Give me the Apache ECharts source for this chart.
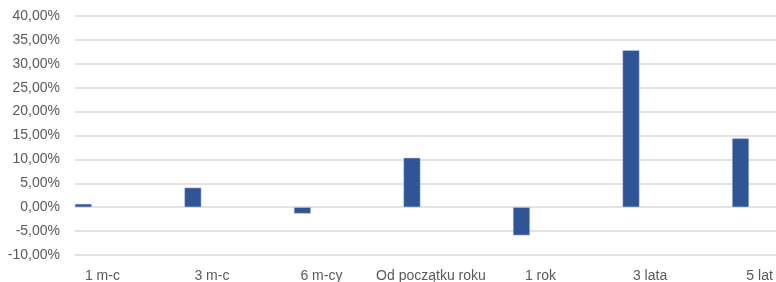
<!DOCTYPE html>
<html>
<head>
<meta charset="utf-8">
<script src="https://cdn.jsdelivr.net/npm/echarts@6/dist/echarts.min.js"></script>
<style>
  html, body { margin: 0; padding: 0; background: #fff; }
  #main { width: 776px; height: 282px; }
</style>
</head>
<body>
<div id="main"></div>
<script>
// okresy i stopy zwrotu (%)
var categories = ['1 m-c', '3 m-c', '6 m-cy', 'Od początku roku', '1 rok', '3 lata', '5 lat'];
var returns = [0.7, 4.1, -1.35, 10.35, -5.9, 32.85, 14.4];
var yTicks = { min: -10, max: 40, step: 5 };

var chart = echarts.init(document.getElementById('main'));
var font = 'Liberation Sans, Arial, sans-serif';

chart.setOption({
    animation: false,
    grid: { left: 75, right: 0, top: 16, bottom: 27, outerBoundsMode: 'none' },
    xAxis: {
        type: 'value',
        min: -0.25,
        max: 6.15,
        interval: 0.25,
        splitLine: { show: false },
        axisLine: { show: false },
        axisTick: { show: false },
        axisLabel: {
            color: '#595959',
            fontFamily: font,
            fontSize: 14,
            margin: 14,
            showMaxLabel: false,
            formatter: function (v) {
                return Number.isInteger(v) ? categories[v] : '';
            }
        }
    },
    yAxis: {
        type: 'value',
        min: yTicks.min,
        max: yTicks.max,
        interval: yTicks.step,
        axisLine: { show: false },
        axisTick: { show: false },
        splitLine: { lineStyle: { color: '#d9d9d9', width: 1.5 } },
        axisLabel: {
            color: '#595959',
            fontFamily: font,
            fontSize: 14,
            margin: 15,
            formatter: function (v) {
                return v.toFixed(2).replace('.', ',') + '%';
            }
        }
    },
    series: [{
        type: 'bar',
        barWidth: 17,
        barGap: '124%',
        itemStyle: { color: '#2f5597', borderColor: '#c9d3e6', borderWidth: 0.5 },
        data: categories.map(function (c, i) { return [i, returns[i]]; })
    }, {
        // pusta seria - przesuwa słupki w lewo jak w Excelu
        type: 'bar',
        barWidth: 17,
        silent: true,
        data: categories.map(function (c, i) { return [i, null]; })
    }]
});
</script>
</body>
</html>
